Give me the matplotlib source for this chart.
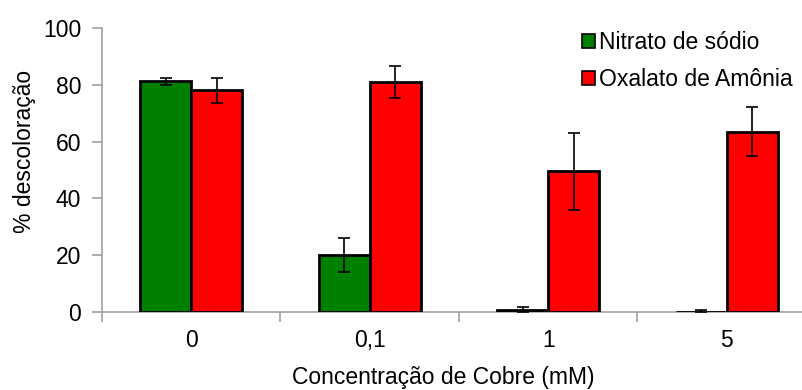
import matplotlib.pyplot as plt
import numpy as np

plt.rcParams['font.family'] = ['Liberation Sans', 'DejaVu Sans']

categorias = ['0', '0,1', '1', '5']
nitrato = [81.2, 20.0, 0.7, 0.1]
nitrato_err = [1.2, 6.0, 1.0, 0.6]
oxalato = [78.0, 81.0, 49.5, 63.5]
oxalato_err = [4.5, 5.5, 13.5, 8.7]

fs = 16.5
fig = plt.figure(figsize=(8.03, 3.9), dpi=100)
ax = fig.add_axes([102 / 803, 78 / 390, 714 / 803, 284 / 390])

x = np.arange(len(categorias))
w = 0.286
err_kw = dict(ecolor='black', elinewidth=1.2, capsize=4.5, capthick=1.2)
ax.bar(x - w / 2, nitrato, w, yerr=nitrato_err, color='#008000', edgecolor='black',
       linewidth=2, label='Nitrato de sódio', error_kw=err_kw, zorder=3)
ax.bar(x + w / 2, oxalato, w, yerr=oxalato_err, color='#ff0000', edgecolor='black',
       linewidth=2, label='Oxalato de Amônia', error_kw=err_kw, zorder=3)

ax.set_xlim(-0.5, 3.5)
ax.set_ylim(0, 100)
ax.set_yticks([0, 20, 40, 60, 80, 100])
ax.set_xticks(x)
ax.set_xticklabels(categorias)
ax.set_xticks(np.arange(-0.5, 4, 1), minor=True)
ax.tick_params(axis='x', which='major', length=0, pad=12, labelsize=fs)
ax.tick_params(axis='x', which='minor', length=7, color='#a0a0a0', width=1.2)
ax.tick_params(axis='y', length=7, color='#a0a0a0', width=1.2, labelsize=fs, pad=8)

for s in ['top', 'right']:
    ax.spines[s].set_visible(False)
for s in ['left', 'bottom']:
    ax.spines[s].set_color('#a0a0a0')
    ax.spines[s].set_linewidth(1.2)

ax.set_ylabel('% descoloração', fontsize=fs)
ax.yaxis.set_label_coords(-0.093, 0.567)
ax.set_xlabel('Concentração de Cobre (mM)', fontsize=fs)
ax.xaxis.set_label_coords(0.478, -0.19)

fig.legend(loc='upper left', bbox_to_anchor=(573 / 803, 1 - 22 / 390), frameon=False,
           fontsize=fs, handlelength=0.55, handleheight=0.55, handletextpad=0.2,
           labelspacing=0.6, borderaxespad=0)
for p in fig.legends[0].get_patches():
    p.set_linewidth(1.2)

fig.savefig('out.png', dpi=100)
